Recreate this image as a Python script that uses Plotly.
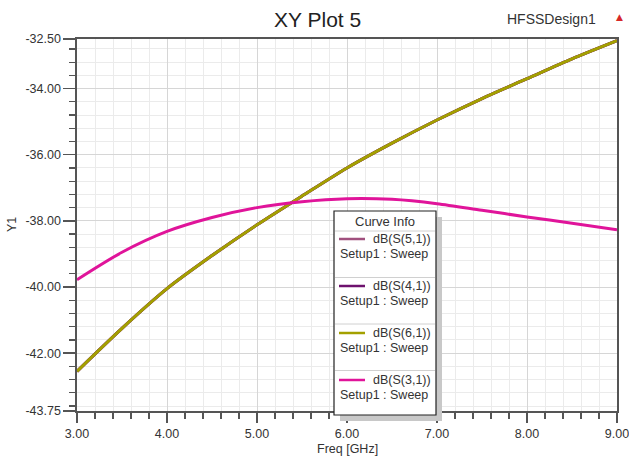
import numpy as np
import plotly.graph_objects as go

# ---------------- data ----------------
freq_ghz = [3.0, 3.5, 4.0, 4.5, 5.0, 5.5, 6.0, 6.5, 7.0, 7.5, 8.0, 8.5, 9.0]
s51_db = [-42.55, -41.25, -40.05, -39.05, -38.12, -37.25, -36.40, -35.65, -34.95, -34.30, -33.70, -33.10, -32.55]
s41_db = [-42.55, -41.25, -40.05, -39.05, -38.12, -37.25, -36.40, -35.65, -34.95, -34.30, -33.70, -33.10, -32.55]
s61_db = [-42.55, -41.25, -40.05, -39.05, -38.12, -37.25, -36.40, -35.65, -34.95, -34.30, -33.70, -33.10, -32.55]
s31_db = [-39.78, -38.95, -38.32, -37.90, -37.60, -37.42, -37.33, -37.35, -37.48, -37.68, -37.88, -38.07, -38.27]

series_names = ["dB(S(5,1))", "dB(S(4,1))", "dB(S(6,1))", "dB(S(3,1))"]
series_sub = "Setup1 : Sweep"
series_colors = ["#A0507E", "#6E126E", "#A3A000", "#E0149A"]

y_major = [-32.5, -34.0, -36.0, -38.0, -40.0, -42.0, -43.75]
x_major = [3.0, 4.0, 5.0, 6.0, 7.0, 8.0, 9.0]

# ---------------- figure ----------------
W, H = 629, 459
ML, MR, MT, MB = 77, 12, 39, 48
PW, PH = W - ML - MR, H - MT - MB

fig = go.Figure()
for name, ys, col in zip(series_names, [s51_db, s41_db, s61_db, s31_db], series_colors):
    fig.add_trace(go.Scatter(x=freq_ghz, y=ys, mode="lines", name=name,
                             line=dict(color=col, width=3, shape="spline", smoothing=0.8),
                             showlegend=False, hoverinfo="skip"))

y_minor = [v for v in np.round(np.arange(-43.6, -32.5, 0.4), 2) if all(abs(v - m) > 1e-6 for m in y_major)]

axis_font = dict(family="Liberation Sans, Arial, sans-serif", size=12.5, color="#333")

fig.update_xaxes(range=[3, 9], tickvals=x_major, ticktext=[f"{v:.2f}" for v in x_major],
                 ticks="outside", ticklen=10, tickwidth=1.3, tickcolor="#555",
                 showline=True, linecolor="#555", linewidth=1.6, mirror=True,
                 showgrid=True, gridcolor="#D6D6D6", gridwidth=1, zeroline=False,
                 tickfont=axis_font, automargin=False, ticklabeloverflow="allow",
                 minor=dict(tick0=3, dtick=0.2, ticks="outside", ticklen=6, tickcolor="#555",
                            showgrid=True, gridcolor="#EBEBEB", gridwidth=1))

fig.update_yaxes(range=[-43.75, -32.5], tickvals=y_major, ticktext=[f"{v:.2f}" for v in y_major],
                 ticks="outside", ticklen=12, tickwidth=1.3, tickcolor="#555",
                 showline=True, linecolor="#555", linewidth=1.6, mirror=True,
                 showgrid=True, gridcolor="#D6D6D6", gridwidth=1, zeroline=False,
                 tickfont=axis_font, automargin=False, ticklabeloverflow="allow",
                 minor=dict(tickvals=y_minor, ticks="outside", ticklen=6, tickcolor="#555",
                            showgrid=True, gridcolor="#EBEBEB", gridwidth=1))

# ---------------- legend box ("Curve Info") drawn manually ----------------
def px(x):
    return (x - ML) / PW

def py(y):
    return (MT + PH - y) / PH

shapes = []
annos = []
bx0, bx1, by0, by1 = 334, 436, 211, 415
shapes.append(dict(type="rect", xref="paper", yref="paper", x0=px(bx0 + 6), x1=px(bx1 + 6),
                   y0=py(by0 + 6), y1=py(by1 + 6), fillcolor="#C8C8C8", line=dict(width=0), layer="above"))
shapes.append(dict(type="rect", xref="paper", yref="paper", x0=px(bx0), x1=px(bx1),
                   y0=py(by0), y1=py(by1), fillcolor="white", line=dict(color="#222", width=1.2), layer="above"))
leg_font = dict(family="Liberation Sans, Arial, sans-serif", size=12.5, color="#333")
annos.append(dict(xref="paper", yref="paper", x=px((bx0 + bx1) / 2), y=py(221), text="Curve Info",
                  showarrow=False, xanchor="center", yanchor="middle",
                  font=dict(family="Liberation Sans, Arial, sans-serif", size=13, color="#333")))
for i, (name, col) in enumerate(zip(series_names, series_colors)):
    sep_y = 231 + 46.5 * i
    shapes.append(dict(type="line", xref="paper", yref="paper", x0=px(bx0 + 1), x1=px(bx1 - 1),
                       y0=py(sep_y), y1=py(sep_y), line=dict(color="#D0D0D0", width=1), layer="above"))
    ly = 239 + 47 * i
    shapes.append(dict(type="line", xref="paper", yref="paper", x0=px(339), x1=px(365),
                       y0=py(ly), y1=py(ly), line=dict(color=col, width=2.5), layer="above"))
    annos.append(dict(xref="paper", yref="paper", x=px(433), y=py(ly), text=name, showarrow=False,
                      xanchor="right", yanchor="middle", font=leg_font))
    annos.append(dict(xref="paper", yref="paper", x=px(338), y=py(ly + 15), text=series_sub, showarrow=False,
                      xanchor="left", yanchor="middle", font=leg_font))

# axis titles
annos.append(dict(xref="paper", yref="paper", x=px(347), y=py(449), text="Freq [GHz]", showarrow=False,
                  xanchor="center", yanchor="middle", font=axis_font))
annos.append(dict(xref="paper", yref="paper", x=px(12), y=py(225), text="Y1", showarrow=False,
                  xanchor="center", yanchor="middle", textangle=-90, font=axis_font))

# title, design name, logo
annos.append(dict(xref="paper", yref="paper", x=px(317), y=py(19), text="XY Plot 5", showarrow=False,
                  xanchor="center", yanchor="middle",
                  font=dict(family="Liberation Sans, Arial, sans-serif", size=21, color="#222")))
annos.append(dict(xref="paper", yref="paper", x=px(551), y=py(19), text="HFSSDesign1", showarrow=False,
                  xanchor="center", yanchor="middle",
                  font=dict(family="Liberation Sans, Arial, sans-serif", size=14, color="#333")))
annos.append(dict(xref="paper", yref="paper", x=px(619), y=py(17), text="▲", showarrow=False,
                  xanchor="center", yanchor="middle",
                  font=dict(family="DejaVu Sans, sans-serif", size=9, color="#D62828")))

fig.update_layout(width=W, height=H, margin=dict(l=ML, r=MR, t=MT, b=MB),
                  paper_bgcolor="white", plot_bgcolor="white",
                  shapes=shapes, annotations=annos, showlegend=False, hovermode=False)

fig.write_html("out.html", config={"displayModeBar": False, "staticPlot": True},
               post_script="document.body.style.margin='0';document.body.style.padding='0';document.body.style.overflow='hidden';")
